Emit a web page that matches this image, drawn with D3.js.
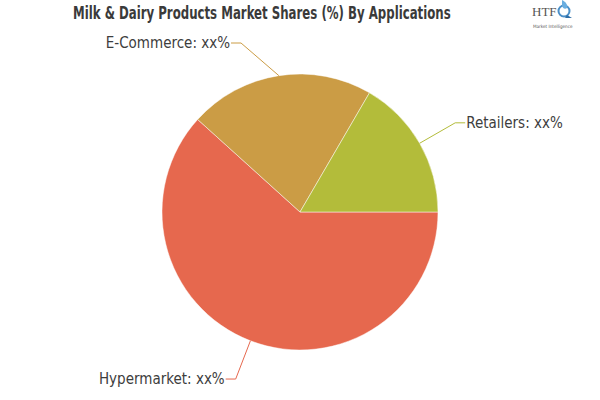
<!DOCTYPE html>
<html>
<head>
<meta charset="utf-8">
<script src="https://cdn.jsdelivr.net/npm/d3@7/dist/d3.min.js"></script>
<style>
  html, body { margin: 0; padding: 0; background: #fff; }
  svg { display: block; }
</style>
</head>
<body>
<svg id="chart" width="600" height="400"></svg>
<script>
const title = "Milk & Dairy Products Market Shares (%) By Applications";
const categories = ["Hypermarket", "E-Commerce", "Retailers"];
const values = [61.7, 21.7, 16.6];
const valueLabels = ["xx%", "xx%", "xx%"];
const colors = ["#e6684e", "#cb9c45", "#b3bc3a"];

const W = 600, H = 400;
const cx = 300, cy = 212, r = 138;
const labelR = 179;
const labelTop = 43;

const svg = d3.select("#chart");

// Title (horizontally condensed to the reference width)
const titleG = svg.append("g");
const titleT = titleG.append("text")
  .attr("x", 0).attr("y", 0)
  .attr("font-family", "'Liberation Sans Narrow', 'DejaVu Sans Condensed', sans-serif")
  .attr("font-weight", "bold")
  .attr("font-size", 18)
  .attr("fill", "#3a3a3a")
  .text(title);
const natW = titleT.node().getComputedTextLength();
titleG.attr("transform", `translate(73,19) scale(${378 / natW},1)`);

// Logo
const logo = svg.append("g").attr("transform", "translate(532,0)");
logo.append("text").attr("x", 0).attr("y", 16)
  .attr("font-family", "'Liberation Serif', 'DejaVu Serif', serif")
  .attr("font-size", 13).attr("fill", "#555").text("HTF");
logo.append("circle").attr("cx", 32).attr("cy", 11).attr("r", 5.5)
  .attr("fill", "none").attr("stroke", "#4a8fc8").attr("stroke-width", 2);
logo.append("path").attr("d", "M30,0 C34,2 36,5 35,8 C33,10 30,8 30,5 Z").attr("fill", "#6aaee0");
logo.append("path").attr("d", "M35,15 L40,18 L33,18 Z").attr("fill", "#2f6ea6");
logo.append("text").attr("x", 1).attr("y", 28)
  .attr("font-family", "'DejaVu Sans Condensed', sans-serif")
  .attr("font-size", 4.6).attr("fill", "#555").text("Market Intelligence");

// Pie
const pie = d3.pie().sort(null).value(d => d.v)
  .startAngle(Math.PI / 2).endAngle(Math.PI / 2 + 2 * Math.PI);
const data = categories.map((c, i) => ({ c, v: values[i], lab: valueLabels[i], col: colors[i] }));
const arcs = pie(data);
const arc = d3.arc().innerRadius(0).outerRadius(r);

const g = svg.append("g").attr("transform", `translate(${cx},${cy})`);
g.selectAll("path.slice").data(arcs).enter().append("path")
  .attr("class", "slice")
  .attr("d", arc)
  .attr("fill", d => d.data.col)
  .attr("stroke", "rgba(255,255,255,0.6)")
  .attr("stroke-width", 0.8);

// Labels with connectors
arcs.forEach(d => {
  const a = (d.startAngle + d.endAngle) / 2;
  const ex = r * Math.sin(a), ey = -r * Math.cos(a);
  let by = -labelR * Math.cos(a);
  if (cy + by < labelTop) by = labelTop - cy;
  const side = Math.sin(a) >= 0 ? 1 : -1;
  const bx = side * Math.sqrt(Math.max(0, labelR * labelR - by * by));
  const hx = bx + side * 10;
  g.append("path")
    .attr("d", `M${ex},${ey} L${bx},${by} L${hx},${by}`)
    .attr("fill", "none")
    .attr("stroke", d.data.col)
    .attr("stroke-width", 1);
  g.append("text")
    .attr("x", hx + side * 1)
    .attr("y", by + 5)
    .attr("text-anchor", side > 0 ? "start" : "end")
    .attr("font-family", "'DejaVu Sans Condensed', 'DejaVu Sans', sans-serif")
    .attr("font-size", 15)
    .attr("fill", "#3d3d3d")
    .text(`${d.data.c}: ${d.data.lab}`);
});
</script>
</body>
</html>
